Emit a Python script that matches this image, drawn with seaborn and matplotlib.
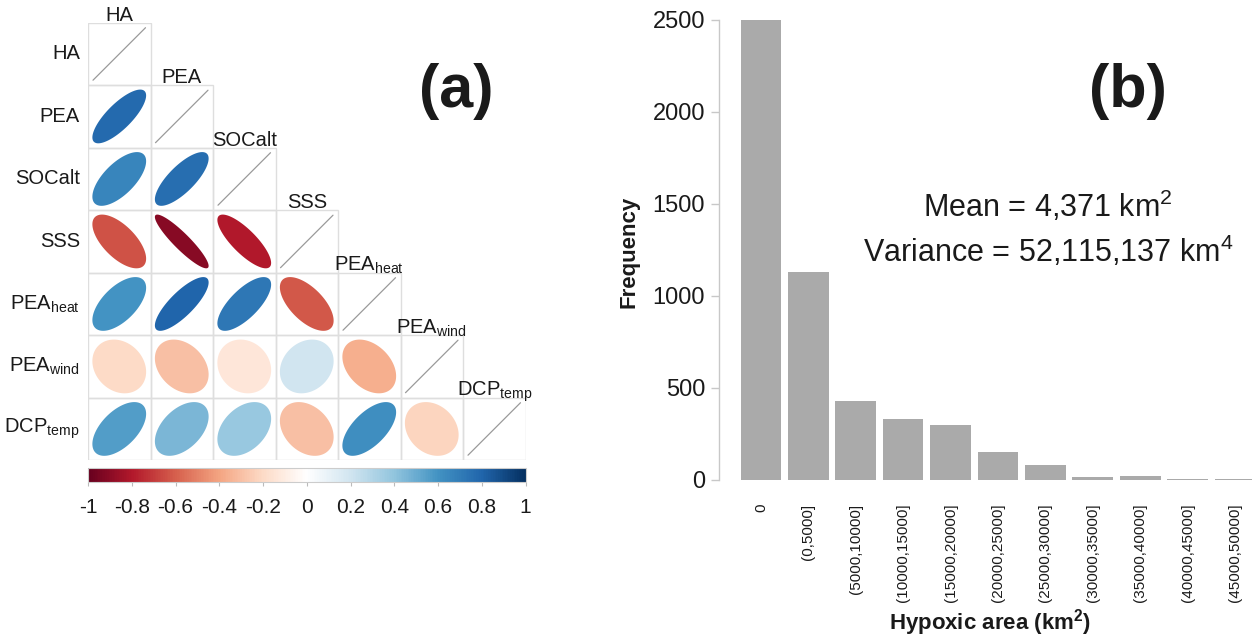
import numpy as np
import pandas as pd
import matplotlib
matplotlib.use("Agg")
import matplotlib.pyplot as plt
import seaborn as sns
from matplotlib.colors import LinearSegmentedColormap, Normalize
from matplotlib.patches import Polygon, Rectangle
from matplotlib.cm import ScalarMappable

# ---------------- data ----------------
var_labels = ["HA", "PEA", "SOCalt", "SSS",
              r"PEA$_{heat}$", r"PEA$_{wind}$", r"DCP$_{temp}$"]

# lower-triangle correlations, one list per row (columns left to right)
corr_pea = [0.78]
corr_socalt = [0.66, 0.76]
corr_sss = [-0.64, -0.91, -0.80]
corr_pea_heat = [0.60, 0.80, 0.72, -0.62]
corr_pea_wind = [-0.20, -0.30, -0.14, 0.20, -0.36]
corr_dcp_temp = [0.56, 0.46, 0.38, -0.30, 0.62, -0.22]

cbar_ticks = [-1, -0.8, -0.6, -0.4, -0.2, 0, 0.2, 0.4, 0.6, 0.8, 1]
cbar_ticklabels = ["-1", "-0.8", "-0.6", "-0.4", "-0.2", "0",
                   "0.2", "0.4", "0.6", "0.8", "1"]

bin_labels = ["0", "(0,5000]", "(5000,10000]", "(10000,15000]",
              "(15000,20000]", "(20000,25000]", "(25000,30000]",
              "(30000,35000]", "(35000,40000]", "(40000,45000]",
              "(45000,50000]"]
bin_counts = [2500, 1133, 428, 334, 301, 153, 81, 14, 23, 7, 4]
freq_ticks = [0, 500, 1000, 1500, 2000, 2500]

# ---------------- style ----------------
sns.set_theme(style="white")
plt.rcParams["font.family"] = ["Liberation Sans", "DejaVu Sans"]
plt.rcParams["mathtext.default"] = "regular"
plt.rcParams["text.color"] = "#1a1a1a"

W, H = 1252, 642
fig = plt.figure(figsize=(W / 100, H / 100), dpi=100)
fig.patch.set_facecolor("white")


def fx(px):
    return px / W


def fy(py):
    return 1 - py / H


rdbu = LinearSegmentedColormap.from_list(
    "corr_rdbu",
    ["#67001F", "#B2182B", "#D6604D", "#F4A582", "#FDDBC7", "#FFFFFF",
     "#D1E5F0", "#92C5DE", "#4393C3", "#2166AC", "#053061"], N=256)
norm = Normalize(-1, 1)

# ---------------- (a) correlation ellipses ----------------
n = len(var_labels)
grid_left, grid_top, cell = 88, 22.7, 62.5
axa = fig.add_axes([fx(grid_left), fy(grid_top + n * cell),
                    fx(n * cell), (n * cell) / H])
axa.set_xlim(0, n)
axa.set_ylim(n, 0)
axa.axis("off")

rows = [[], corr_pea, corr_socalt, corr_sss, corr_pea_heat,
        corr_pea_wind, corr_dcp_temp]
grid_col = "#dedede"
k = np.linspace(0, 2 * np.pi, 99)
for i in range(n):
    for j in range(i + 1):
        axa.add_patch(Rectangle((j, i), 1, 1, fill=False, ec=grid_col,
                                lw=1.0, zorder=1))
        if j == i:
            axa.plot([j + 0.08, j + 0.92], [i + 0.92, i + 0.08],
                     color="#9a9a9a", lw=0.9, zorder=2)
            axa.text(j + 0.5, i - 0.03, var_labels[i], ha="center",
                     va="baseline", fontsize=14.5, clip_on=False)
        else:
            rho = rows[i][j]
            a = np.arccos(rho)
            ex = 0.86 * np.cos(k + a / 2) / 2
            ey = 0.86 * np.cos(k - a / 2) / 2
            pts = np.column_stack([j + 0.5 + ex, i + 0.5 - ey])
            axa.add_patch(Polygon(pts, closed=True,
                                  facecolor=rdbu(norm(rho)),
                                  edgecolor="none", zorder=3))
    axa.text(-0.13, i + 0.5, var_labels[i], ha="right", va="center",
             fontsize=14.5, clip_on=False)

caxa = fig.add_axes([fx(grid_left), fy(482.3), fx(n * cell), 14.8 / H])
cb = fig.colorbar(ScalarMappable(norm=norm, cmap=rdbu), cax=caxa,
                  orientation="horizontal", ticks=cbar_ticks)
cb.ax.set_xticklabels(cbar_ticklabels)
cb.ax.tick_params(axis="x", length=3, width=0.8, color="#bbbbbb",
                  pad=8, labelsize=15, labelcolor="#1a1a1a")
cb.outline.set_edgecolor("#cccccc")
cb.outline.set_linewidth(0.8)

fig.text(fx(456), fy(107), "(a)", fontsize=44, fontweight="bold",
         ha="center", va="baseline")

# ---------------- (b) hypoxic area histogram ----------------
axb = fig.add_axes([fx(719), fy(480), fx(W - 719), 460 / H])
df = pd.DataFrame({"bin": bin_labels, "count": bin_counts})
sns.barplot(data=df, x="bin", y="count", color="#aaaaaa", saturation=1,
            width=0.86, linewidth=0, ax=axb)
axb.set_xlim(-0.884, 10.36)
axb.set_ylim(0, 2500)
axb.set_yticks(freq_ticks)
axb.set_yticklabels([str(t) for t in freq_ticks])
for side in ["top", "right", "bottom"]:
    axb.spines[side].set_visible(False)
axb.spines["left"].set_color("#c8c8c8")
axb.spines["left"].set_linewidth(1.0)
axb.tick_params(axis="y", left=True, length=6, width=1.0, color="#c8c8c8",
                pad=4, labelsize=17, labelcolor="#1a1a1a")
axb.tick_params(axis="x", bottom=False, length=0, pad=17, labelsize=11,
                labelcolor="#1a1a1a")
plt.setp(axb.get_xticklabels(), rotation=90, ha="center", va="top")
axb.set_xlabel("")
axb.set_ylabel("")

fig.text(fx(629), fy(252), "Frequency", rotation=90, fontsize=16,
         fontweight="bold", ha="center", va="center")
fig.text(fx(990), fy(630), r"Hypoxic area (km$^{2}$)", fontsize=16,
         fontweight="bold", ha="center", va="baseline")
fig.text(fx(1048), fy(217), r"Mean = 4,371 km$^{2}$", fontsize=22,
         ha="center", va="baseline")
fig.text(fx(1048), fy(262), r"Variance = 52,115,137 km$^{4}$",
         fontsize=22, ha="center", va="baseline")
fig.text(fx(1128), fy(107), "(b)", fontsize=44, fontweight="bold",
         ha="center", va="baseline")

fig.savefig("out.png", dpi=100, facecolor="white")
